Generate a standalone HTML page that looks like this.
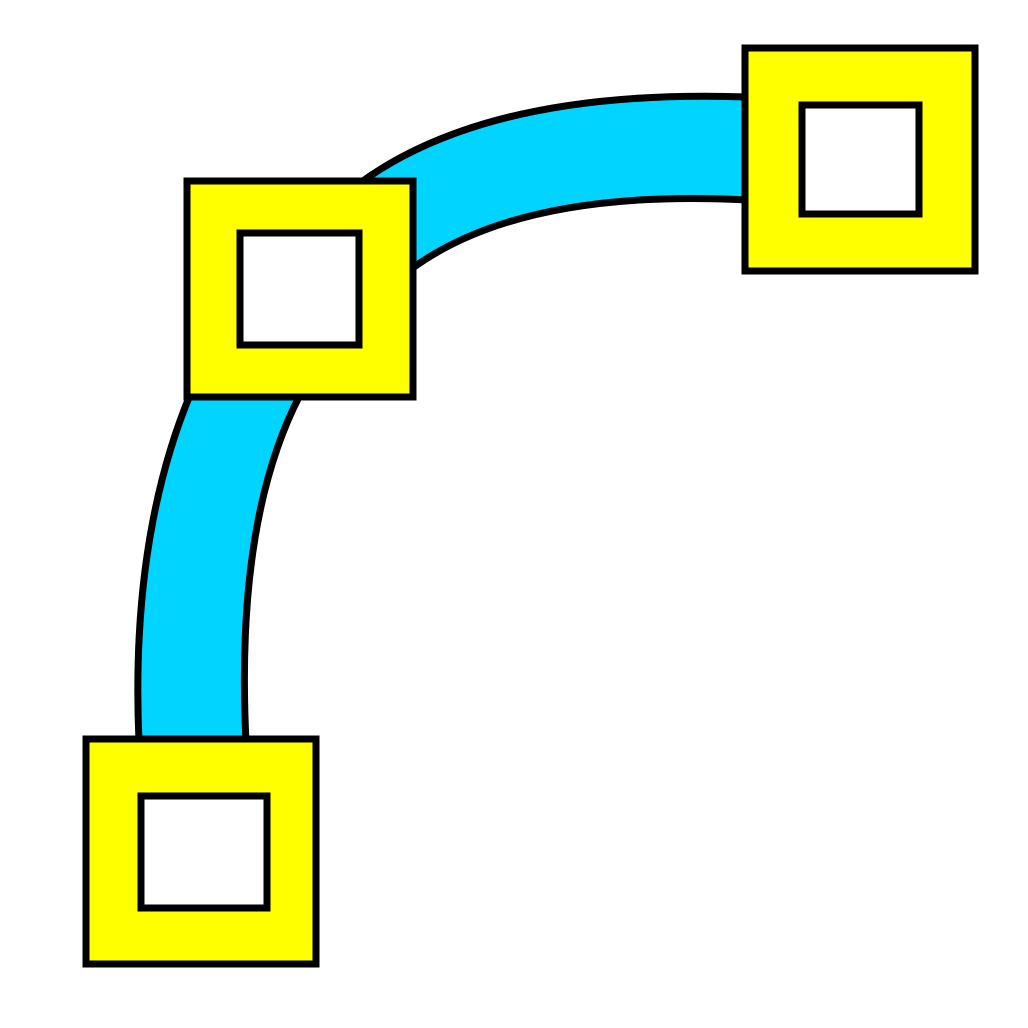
<!DOCTYPE html>
<html><head><meta charset="utf-8"><style>html,body{margin:0;padding:0;background:#fff}svg{display:block}</style></head>
<body>
<svg width="1028" height="1028" viewBox="0 0 1028 1028">
  <g>
    <path d="M139,742 Q130,540 190,395 L300,395 Q235,520 246,742 Z" fill="#00d4ff"/>
    <path d="M360,183 Q490,88 748,97 L748,200 Q520,188 410,270 Z" fill="#00d4ff"/>
    <g fill="none" stroke="#000" stroke-width="7">
      <path d="M139,742 Q130,540 190,395"/>
      <path d="M246,742 Q235,520 300,395"/>
      <path d="M360,183 Q490,88 748,97"/>
      <path d="M410,270 Q520,188 748,200"/>
    </g>
  </g>
  <g stroke="#000" stroke-width="7">
    <g>
      <rect x="86" y="739" width="230" height="225" fill="#ffff00"/>
      <rect x="141" y="796" width="126" height="112" fill="#fff"/>
    </g>
    <g>
      <rect x="187" y="181" width="226" height="216" fill="#ffff00"/>
      <rect x="240" y="233" width="119" height="112" fill="#fff"/>
    </g>
    <g>
      <rect x="745" y="48" width="230" height="223" fill="#ffff00"/>
      <rect x="802" y="105" width="117" height="109" fill="#fff"/>
    </g>
  </g>
</svg>
</body></html>
